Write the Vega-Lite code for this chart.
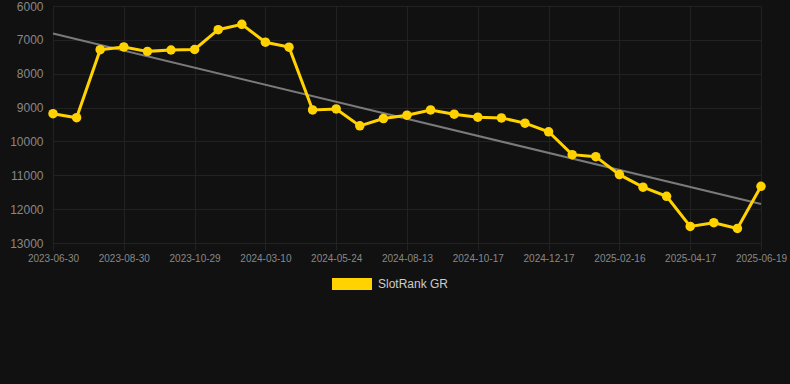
{
  "$schema": "https://vega.github.io/schema/vega-lite/v6.json",
  "width": 737,
  "height": 237,
  "autosize": {"type": "none"},
  "padding": {"left": 53, "top": 6, "right": 0, "bottom": 141},
  "background": "#111111",
  "config": {
    "view": {"stroke": null},
    "font": "Liberation Sans",
    "axis": {"gridColor": "#222222", "tickColor": "#222222", "domain": false, "title": null, "labelColor": "#888888", "labelFont": "Liberation Sans"}
  },
  "datasets": {
    "rank": [
      {"date": "2023-06-30", "rank": 9180, "series": "SlotRank GR"},
      {"date": "2023-07-20", "rank": 9300, "series": "SlotRank GR"},
      {"date": "2023-08-09", "rank": 7290, "series": "SlotRank GR"},
      {"date": "2023-08-30", "rank": 7210, "series": "SlotRank GR"},
      {"date": "2023-09-19", "rank": 7340, "series": "SlotRank GR"},
      {"date": "2023-10-09", "rank": 7300, "series": "SlotRank GR"},
      {"date": "2023-10-29", "rank": 7285, "series": "SlotRank GR"},
      {"date": "2023-12-12", "rank": 6700, "series": "SlotRank GR"},
      {"date": "2024-01-26", "rank": 6540, "series": "SlotRank GR"},
      {"date": "2024-03-10", "rank": 7070, "series": "SlotRank GR"},
      {"date": "2024-04-04", "rank": 7215, "series": "SlotRank GR"},
      {"date": "2024-04-29", "rank": 9070, "series": "SlotRank GR"},
      {"date": "2024-05-24", "rank": 9040, "series": "SlotRank GR"},
      {"date": "2024-06-20", "rank": 9540, "series": "SlotRank GR"},
      {"date": "2024-07-17", "rank": 9325, "series": "SlotRank GR"},
      {"date": "2024-08-13", "rank": 9225, "series": "SlotRank GR"},
      {"date": "2024-09-03", "rank": 9070, "series": "SlotRank GR"},
      {"date": "2024-09-25", "rank": 9195, "series": "SlotRank GR"},
      {"date": "2024-10-17", "rank": 9285, "series": "SlotRank GR"},
      {"date": "2024-11-06", "rank": 9305, "series": "SlotRank GR"},
      {"date": "2024-11-27", "rank": 9460, "series": "SlotRank GR"},
      {"date": "2024-12-17", "rank": 9715, "series": "SlotRank GR"},
      {"date": "2025-01-06", "rank": 10390, "series": "SlotRank GR"},
      {"date": "2025-01-27", "rank": 10450, "series": "SlotRank GR"},
      {"date": "2025-02-16", "rank": 10980, "series": "SlotRank GR"},
      {"date": "2025-03-08", "rank": 11350, "series": "SlotRank GR"},
      {"date": "2025-03-28", "rank": 11620, "series": "SlotRank GR"},
      {"date": "2025-04-17", "rank": 12510, "series": "SlotRank GR"},
      {"date": "2025-05-08", "rank": 12400, "series": "SlotRank GR"},
      {"date": "2025-05-29", "rank": 12570, "series": "SlotRank GR"},
      {"date": "2025-06-19", "rank": 11325, "series": "SlotRank GR"}
    ],
    "trend": [
      {"date": "2023-06-30", "rank": 6815},
      {"date": "2025-06-19", "rank": 11850}
    ]
  },
  "encoding": {
    "x": {
      "field": "date",
      "type": "ordinal",
      "scale": {"type": "point", "padding": 0, "range": [0, 708]},
      "axis": {
        "values": ["2023-06-30", "2023-08-30", "2023-10-29", "2024-03-10", "2024-05-24", "2024-08-13", "2024-10-17", "2024-12-17", "2025-02-16", "2025-04-17", "2025-06-19"],
        "labelAngle": 0,
        "labelFontSize": 10,
        "tickSize": 7,
        "labelPadding": 3,
        "grid": true
      }
    },
    "y": {
      "field": "rank",
      "type": "quantitative",
      "scale": {"domain": [6000, 13000], "reverse": true, "zero": false, "nice": false},
      "axis": {
        "values": [6000, 7000, 8000, 9000, 10000, 11000, 12000, 13000],
        "format": "d",
        "ticks": false,
        "labelPadding": 10,
        "labelFontSize": 12,
        "grid": true
      }
    }
  },
  "layer": [
    {
      "data": {"name": "trend"},
      "mark": {"type": "line", "color": "#7a7a7a", "strokeWidth": 2}
    },
    {
      "data": {"name": "rank"},
      "mark": {"type": "line", "color": "#FFD200", "strokeWidth": 3}
    },
    {
      "data": {"name": "rank"},
      "mark": {"type": "point", "filled": true, "opacity": 1, "size": 90},
      "encoding": {
        "color": {
          "field": "series",
          "type": "nominal",
          "scale": {"domain": ["SlotRank GR"], "range": ["#FFD200"]},
          "legend": {
            "title": null,
            "orient": "none",
            "legendX": 279,
            "legendY": 258,
            "symbolType": "M-1,-0.3H1V0.3H-1Z",
            "symbolSize": 1600,
            "symbolStrokeWidth": 0,
            "labelFontSize": 12,
            "labelColor": "#cccccc",
            "labelOffset": 6,
            "labelFont": "Liberation Sans"
          }
        }
      }
    }
  ]
}
